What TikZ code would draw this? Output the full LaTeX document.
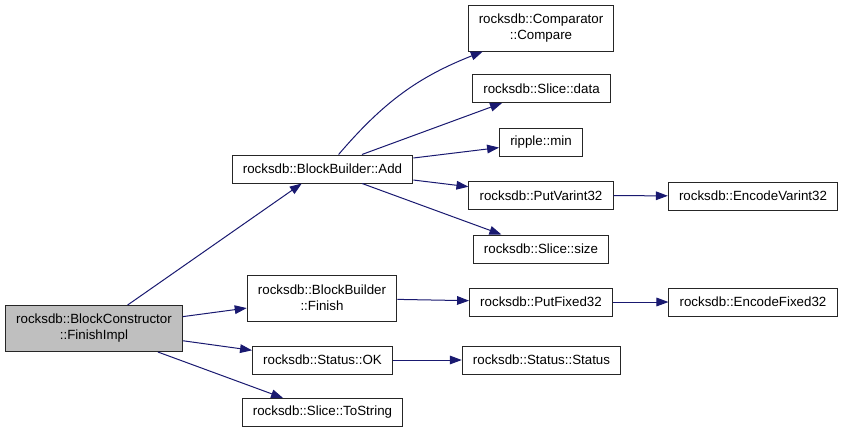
\documentclass[tikz,border=0pt]{standalone}
\usepackage{fontspec}
\setmainfont{Liberation Sans}
\usetikzlibrary{arrows.meta}
\definecolor{edgeblue}{HTML}{191970}
\definecolor{rootgray}{HTML}{BFBFBF}

\begin{document}
\begin{tikzpicture}[x=0.75pt, y=-0.75pt,
    fn/.style={draw=black!85, fill=white, line width=0.75pt, inner xsep=8pt, minimum height=21pt, font=\fontsize{10}{12}\selectfont},
    fn2/.style={fn, align=center, minimum height=34.5pt},
    call/.style={-{Triangle[length=9pt,width=6.5pt]}, draw=edgeblue, line width=0.75pt}]
    \useasboundingbox (0,0) rectangle (843,433);

    % Caller
    \node[fn2, fill=rootgray] (finishimpl) at (94,328.5) {rocksdb::BlockConstructor\\::FinishImpl};

    % Direct calls
    \node[fn] (add) at (322.5,169) {rocksdb::BlockBuilder::Add};
    \node[fn2] (finish) at (322,298) {rocksdb::BlockBuilder\\::Finish};
    \node[fn] (ok) at (322.5,360) {rocksdb::Status::OK};
    \node[fn] (tostring) at (322.5,412.5) {rocksdb::Slice::ToString};

    % Second level
    \node[fn2] (compare) at (541,28) {rocksdb::Comparator\\::Compare};
    \node[fn] (data) at (541.5,88.5) {rocksdb::Slice::data};
    \node[fn] (min) at (541,142.5) {ripple::min};
    \node[fn] (putvarint) at (541,195.5) {rocksdb::PutVarint32};
    \node[fn] (size) at (541,249) {rocksdb::Slice::size};
    \node[fn] (putfixed) at (541,302) {rocksdb::PutFixed32};
    \node[fn] (status) at (541.5,360) {rocksdb::Status::Status};

    % Third level
    \node[fn] (encodevarint) at (753,196) {rocksdb::EncodeVarint32};
    \node[fn] (encodefixed) at (753,302) {rocksdb::EncodeFixed32};

    % Calls
    \draw[call] (finishimpl) -- (add);
    \draw[call] (finishimpl) -- (finish);
    \draw[call] (finishimpl) -- (ok);
    \draw[call] (finishimpl) -- (tostring);
    \draw[call] (add.42) to[bend left=14] (compare.202);
    \draw[call] (add) -- (data);
    \draw[call] (add) -- (min);
    \draw[call] (add) -- (putvarint);
    \draw[call] (add) -- (size);
    \draw[call] (putvarint) -- (encodevarint);
    \draw[call] (finish) -- (putfixed);
    \draw[call] (putfixed) -- (encodefixed);
    \draw[call] (ok) -- (status);
\end{tikzpicture}
\end{document}
